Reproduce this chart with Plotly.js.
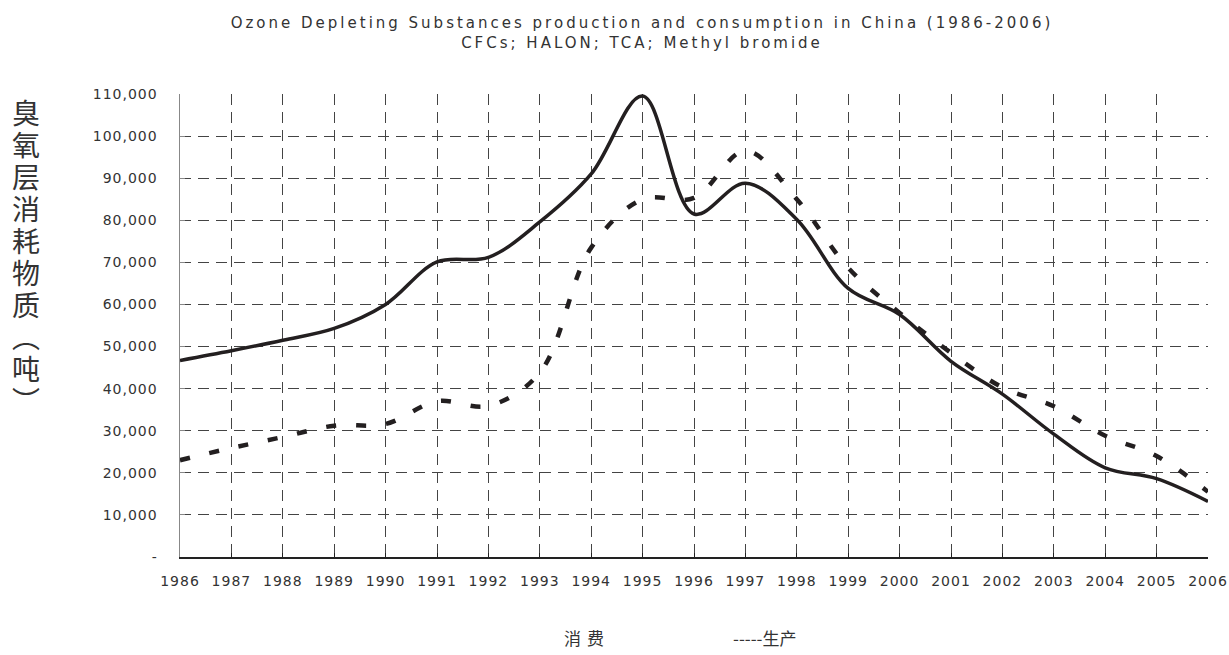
<!DOCTYPE html>
<html>
<head>
<meta charset="utf-8">
<script src="https://cdn.plot.ly/plotly-3.0.1.min.js"></script>
<style>
  html, body { margin: 0; padding: 0; background: #fff; }
  #chart { width: 1229px; height: 655px; }
  .gtitle { letter-spacing: 3px; }
  .xtick text, .ytick text { letter-spacing: 1px; }
  .annotation[data-index="1"] text { letter-spacing: 6px; }
  .annotation[data-index="0"] text.annotation-text {
    writing-mode: vertical-rl;
    letter-spacing: 4px;
  }
</style>
</head>
<body>
<div id="chart"></div>
<script>
// ---- data ----
const years = [1986, 1987, 1988, 1989, 1990, 1991, 1992, 1993, 1994, 1995, 1996,
               1997, 1998, 1999, 2000, 2001, 2002, 2003, 2004, 2005, 2006];
// 消费 (consumption, tonnes)
const consumption = [46700, 49000, 51500, 54300, 60000, 70100, 71200, 79600, 91000, 109500, 81500,
                     88800, 80200, 63800, 57600, 46500, 38700, 29200, 21200, 18600, 13200];
// 生产 (production, tonnes)
const production = [23000, 25900, 28500, 31200, 31600, 37000, 35900, 43800, 73500, 85000, 85300,
                    96500, 85000, 68700, 58000, 48500, 40300, 35800, 28800, 24000, 15500];
const yTickVals = [0, 10000, 20000, 30000, 40000, 50000, 60000, 70000, 80000, 90000, 100000, 110000];
const yTickText = ['-', '10,000', '20,000', '30,000', '40,000', '50,000', '60,000',
                   '70,000', '80,000', '90,000', '100,000', '110,000'];
const seriesNames = ['消费', '生产'];
const legendTexts = ['消费', '-----生产'];
const titleLines = ['Ozone Depleting Substances production and consumption in China (1986-2006)',
                    'CFCs; HALON; TCA; Methyl bromide'];
const yTitle = '臭氧层消耗物质（吨）';

// ---- chart ----
const W = 1229, H = 655;
const M = { l: 180, r: 21, t: 94, b: 98 };
const plotW = W - M.l - M.r, plotH = H - M.t - M.b;
const px2x = p => (p - M.l) / plotW;
const px2y = p => (H - M.b - p) / plotH;

const traces = [
  {
    x: years, y: consumption, name: seriesNames[0], type: 'scatter', mode: 'lines',
    line: { color: '#231f20', width: 3.5, shape: 'spline', smoothing: 1 },
    hoverinfo: 'x+y'
  },
  {
    x: years, y: production, name: seriesNames[1], type: 'scatter', mode: 'lines',
    line: { color: '#231f20', width: 4.5, shape: 'spline', smoothing: 1, dash: '10px,20px' },
    hoverinfo: 'x+y'
  }
];

const cjk = '"Noto Sans CJK SC", "Noto Sans CJK JP", sans-serif';
const layout = {
  width: W, height: H,
  margin: M,
  paper_bgcolor: '#ffffff',
  plot_bgcolor: '#ffffff',
  showlegend: false,
  title: {
    text: titleLines.join('<br>'),
    font: { family: '"DejaVu Sans", sans-serif', size: 15, color: '#333333' },
    xref: 'container', x: 642 / W, xanchor: 'center',
    yref: 'container', y: 1 - 28 / H, yanchor: 'top'
  },
  xaxis: {
    range: [1986, 2006],
    tickvals: years,
    ticktext: years.map(String),
    showgrid: true,
    gridcolor: '#444444', gridwidth: 1, griddash: '11px,7px',
    zeroline: false,
    showline: true, linecolor: '#222222', linewidth: 1.5,
    ticks: 'inside', ticklen: 4, tickcolor: '#222222',
    ticklabelstandoff: 11,
    tickfont: { family: '"DejaVu Sans", sans-serif', size: 14, color: '#333333' },
    fixedrange: true
  },
  yaxis: {
    range: [0, 110000],
    tickvals: yTickVals,
    ticktext: yTickText,
    showgrid: true,
    gridcolor: '#444444', gridwidth: 1, griddash: '11px,7px',
    zeroline: false,
    showline: true, linecolor: '#888888', linewidth: 1.5,
    ticks: 'inside', ticklen: 5, tickcolor: '#888888',
    ticklabelstandoff: 18,
    tickfont: { family: '"DejaVu Sans", sans-serif', size: 14, color: '#333333' },
    fixedrange: true
  },
  annotations: [
    {
      text: yTitle,
      xref: 'paper', yref: 'paper',
      x: px2x(26), y: px2y(247), xanchor: 'center', yanchor: 'middle',
      showarrow: false, align: 'center',
      font: { family: cjk, size: 28, color: '#333333' }
    },
    {
      text: legendTexts[0],
      xref: 'paper', yref: 'paper',
      x: px2x(587), y: px2y(637), xanchor: 'center', yanchor: 'middle',
      showarrow: false,
      font: { family: cjk, size: 17, color: '#333333' }
    },
    {
      text: legendTexts[1],
      xref: 'paper', yref: 'paper',
      x: px2x(765), y: px2y(637), xanchor: 'center', yanchor: 'middle',
      showarrow: false,
      font: { family: cjk, size: 17, color: '#333333' }
    }
  ]
};

Plotly.newPlot('chart', traces, layout, { displayModeBar: false, staticPlot: true });
</script>
</body>
</html>
